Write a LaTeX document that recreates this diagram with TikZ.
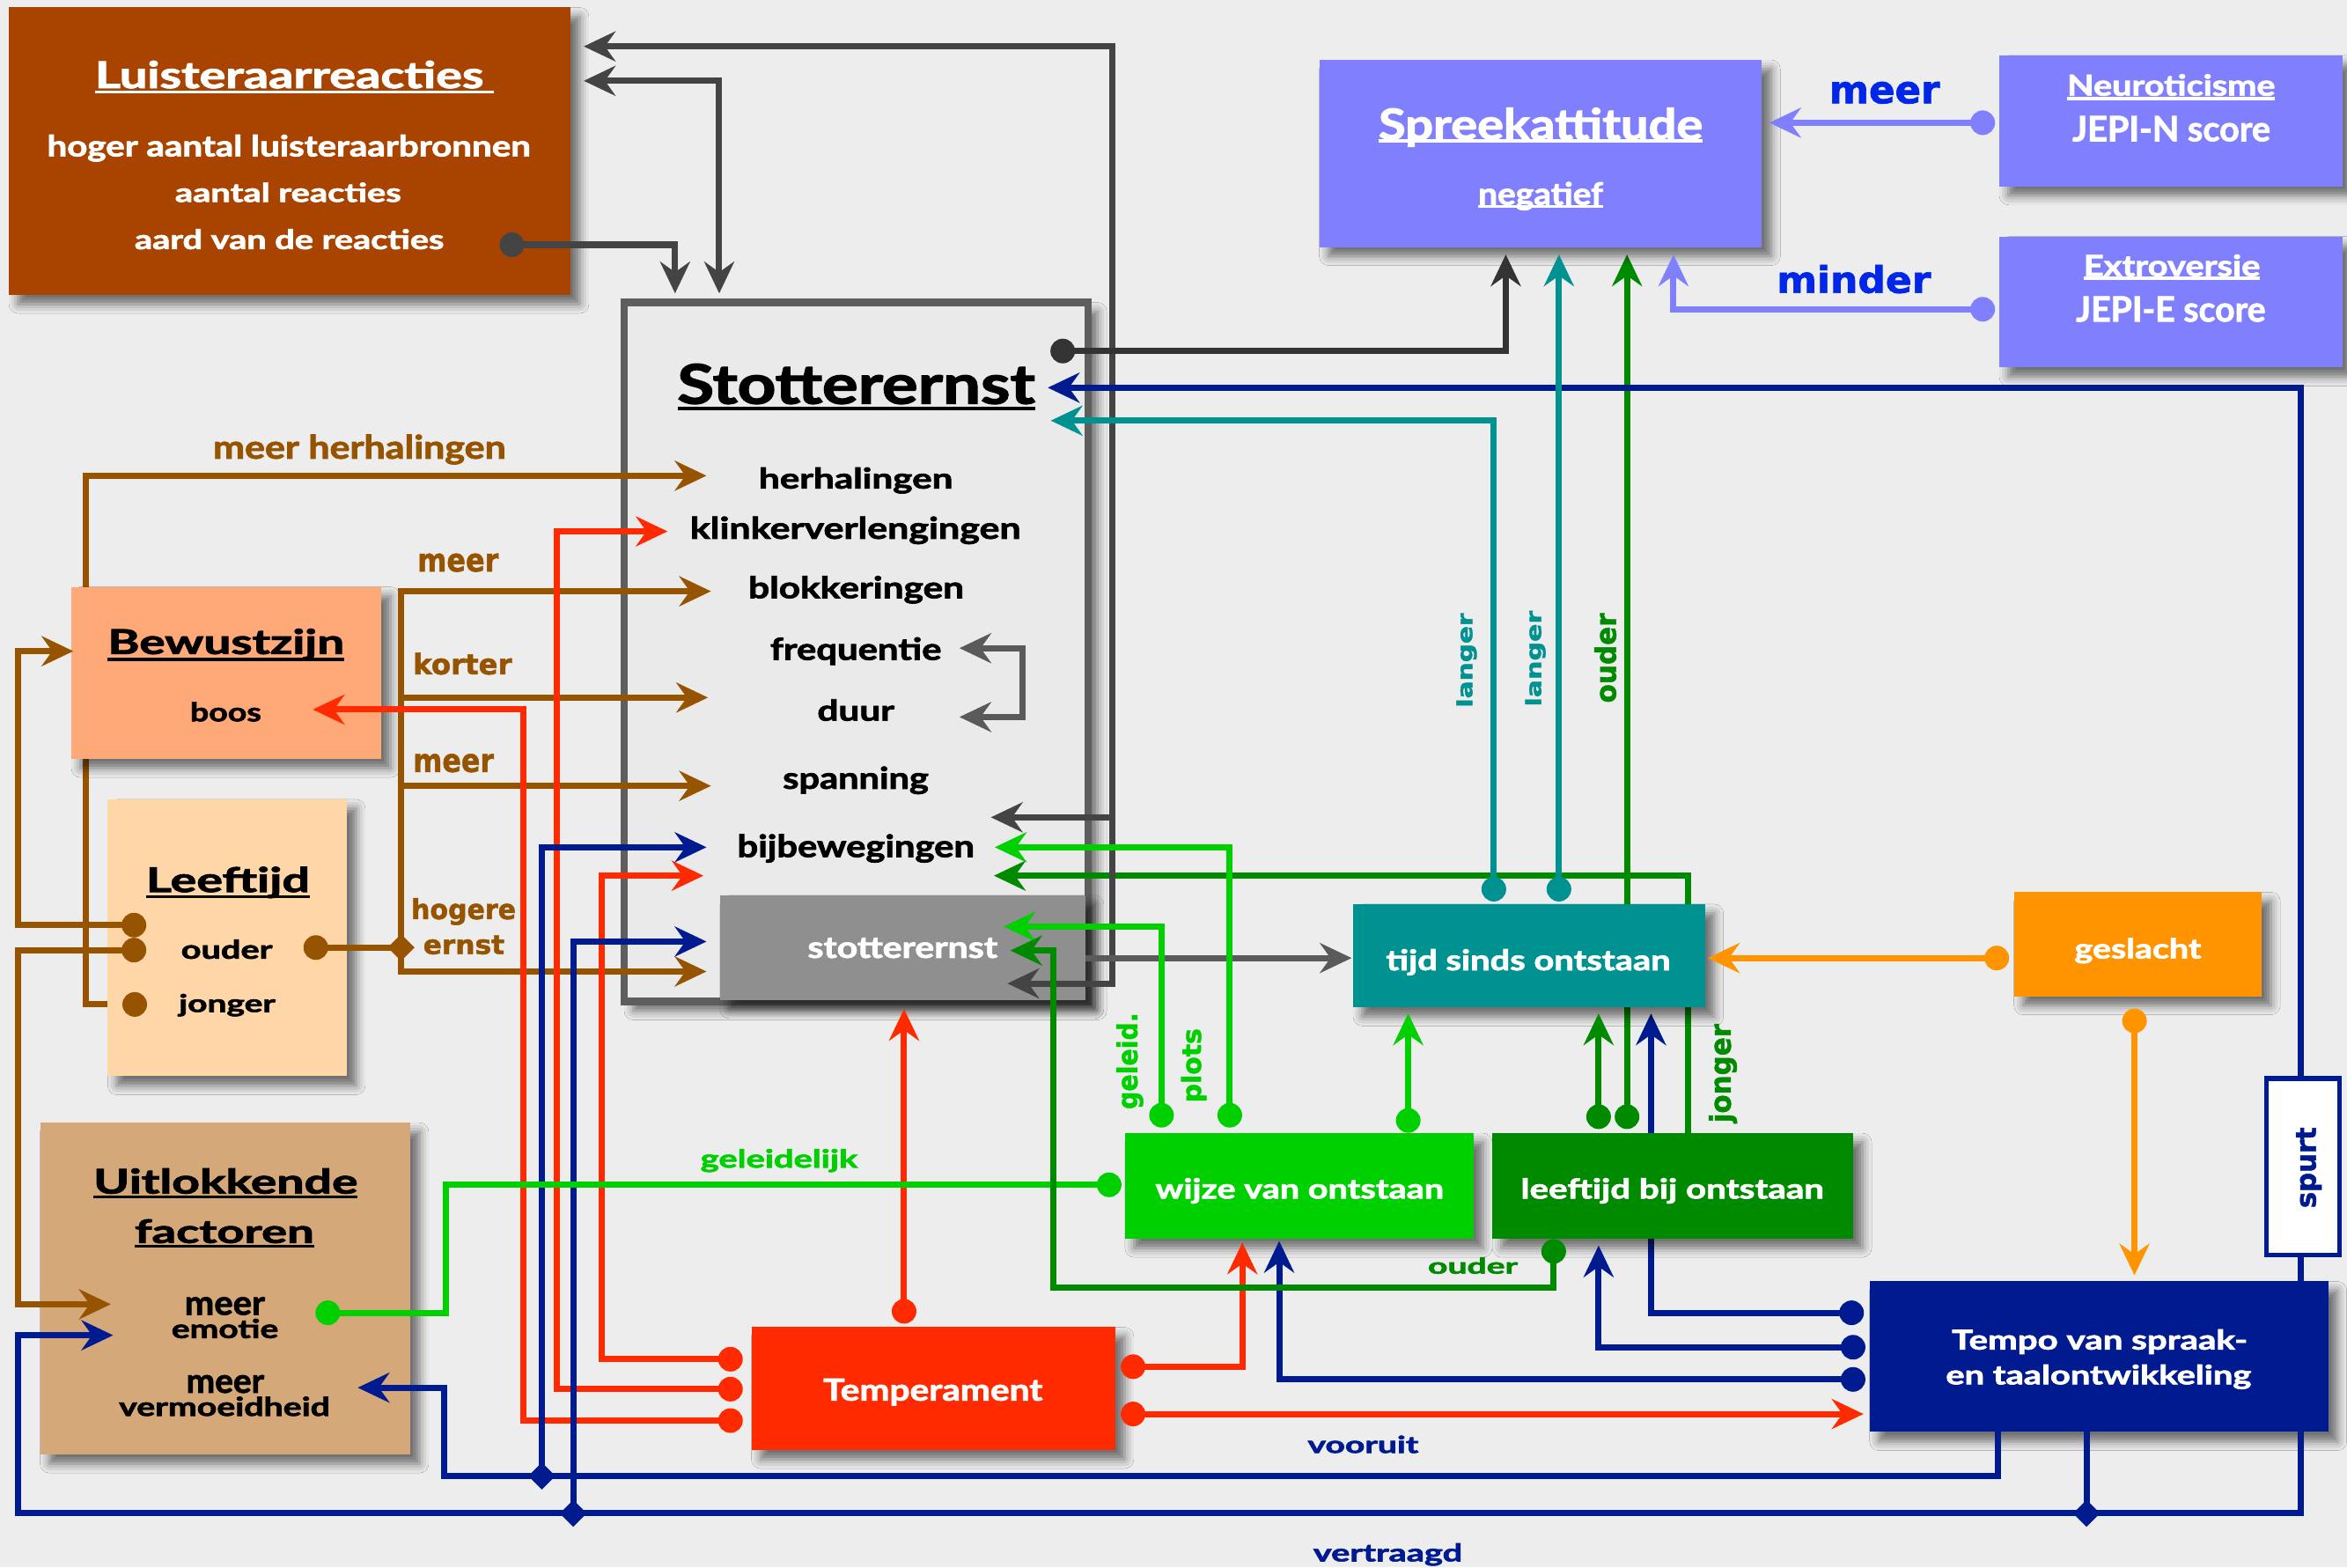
\documentclass[tikz,border=0pt]{standalone}
\usepackage{fontspec}
\setmainfont{Lato}[BoldFeatures={FakeBold=2}]
\newfontfamily\heavyfont{DejaVu Sans}[BoldFeatures={FakeBold=1.5}]
\usepackage{graphicx}
\usetikzlibrary{arrows.meta,fit,shadows.blur}
\newlength\myu
\setlength\myu{0.017cm}
\newcommand\tx[6]{\node[inner sep=0pt,outer sep=0pt,text=#1] (#2) at (#3) {\resizebox*{#4\myu}{#5\myu}{\bfseries #6}};}
\newcommand\txh[6]{\node[inner sep=0pt,outer sep=0pt,text=#1] (#2) at (#3) {\resizebox*{#4\myu}{#5\myu}{\heavyfont\bfseries #6}};}
\newcommand\txr[6]{\node[inner sep=0pt,outer sep=0pt,rotate=90,text=#1] (#2) at (#3) {\resizebox*{#4\myu}{#5\myu}{\heavyfont\bfseries #6}};}
\newcommand\junc[2]{\fill[#1] (#2) ++(-9,0) -- ++(9,-9) -- ++(9,9) -- ++(-9,9) -- cycle;}
\definecolor{bg}{HTML}{EDEDED}
\definecolor{cLuis}{HTML}{A94400}
\definecolor{cBig}{HTML}{EAEAEA}
\definecolor{cBigB}{HTML}{5E5E5E}
\definecolor{cInner}{HTML}{8F8F8F}
\definecolor{cPeri}{HTML}{8080FF}
\definecolor{cBew}{HTML}{FFA878}
\definecolor{cLeef}{HTML}{FFD6A8}
\definecolor{cUit}{HTML}{D4A878}
\definecolor{cRed}{HTML}{FF2A00}
\definecolor{cTeal}{HTML}{009191}
\definecolor{cOr}{HTML}{FF9400}
\definecolor{cGr}{HTML}{00D000}
\definecolor{cDg}{HTML}{008A00}
\definecolor{cNavy}{HTML}{001A8F}
\definecolor{cBrown}{HTML}{965300}
\definecolor{cDark}{HTML}{444444}
\definecolor{cDarker}{HTML}{333333}
\definecolor{cMid}{HTML}{5A5A5A}
\definecolor{cBlue}{HTML}{0026E8}
\begin{document}
\begin{tikzpicture}[x=0.017cm,y=-0.017cm,
  >={Stealth[length=0.36cm,width=0.34cm,inset=0.12cm]},
  ln/.style={line width=2pt,line cap=rect,line join=miter},
  box/.style={inner sep=0pt,outer sep=0pt,blur shadow={shadow xshift=3pt,shadow yshift=-3pt,shadow blur radius=3pt,shadow opacity=55}},
  dot/.style={circle,fill=#1,inner sep=0pt,minimum size=0.28cm}]
\useasboundingbox (0,0) rectangle (1568,1047);
\fill[bg] (0,0) rectangle (1568,1047);
% ---------- coordinates: dots
\coordinate (d-aard) at (342,163.5);
\coordinate (d-stot) at (710,234.5);
\coordinate (d-oud1) at (89.5,618);
\coordinate (d-oud2) at (89.5,634.7);
\coordinate (d-jong) at (90,671);
\coordinate (d-oud3) at (211,633);
\coordinate (d-tem1) at (488,908);
\coordinate (d-tem2) at (488,928);
\coordinate (d-tem3) at (488,949);
\coordinate (d-temt) at (604,876);
\coordinate (d-temr1) at (757,913);
\coordinate (d-temr2) at (757,944.6);
\coordinate (d-emo) at (219,877);
\coordinate (d-wl) at (741,791.5);
\coordinate (d-w1) at (776,745);
\coordinate (d-w2) at (821.6,745);
\coordinate (d-w3) at (940.8,748.5);
\coordinate (d-lb1) at (1068,746);
\coordinate (d-lb2) at (1087,746);
\coordinate (d-lbb) at (1038,836);
\coordinate (d-ti1) at (998,594);
\coordinate (d-ti2) at (1041.5,594);
\coordinate (d-gl) at (1334,640);
\coordinate (d-gb) at (1426,682);
\coordinate (d-te1) at (1237,877);
\coordinate (d-te2) at (1238,900);
\coordinate (d-te3) at (1238,921.5);
\coordinate (d-neu) at (1324.6,82);
\coordinate (d-ext) at (1324.6,206.6);
% ---------- coordinates: arrow tips and junctions
\coordinate (a-luis1) at (390,31);
\coordinate (a-luis2) at (390,54);
\coordinate (a-stot1) at (451,196);
\coordinate (a-stot2) at (480.5,196);
\coordinate (a-inner1) at (673,657);
\coordinate (a-bijbgr) at (662,546);
\coordinate (a-spr1) at (1006,170);
\coordinate (a-freq) at (641,433);
\coordinate (a-duur) at (641,479);
\coordinate (a-tijd1) at (903,640);
\coordinate (a-herh) at (472,317.8);
\coordinate (a-bew) at (49,435);
\coordinate (a-emo1) at (74,871.3);
\coordinate (a-blok) at (475,395);
\coordinate (a-duur2) at (473,466);
\coordinate (a-span) at (475,525);
\coordinate (a-inner2) at (472,649);
\coordinate (a-boos) at (209,474);
\coordinate (a-klink) at (446,355);
\coordinate (a-bijbr) at (470,585);
\coordinate (a-inner3) at (604,674);
\coordinate (a-wijze1) at (830,830);
\coordinate (a-tempo1) at (1245,944.6);
\coordinate (a-emo2) at (75.6,892);
\coordinate (a-stot3) at (700,259);
\coordinate (a-inner4) at (472,629);
\coordinate (a-verm) at (239,927);
\coordinate (a-bijbn) at (472,566);
\coordinate (a-tijd2) at (1103,677);
\coordinate (a-lb1) at (1068,832);
\coordinate (a-wijze2) at (854.6,829);
\coordinate (a-inner5) at (670.6,619);
\coordinate (a-bijbg) at (664.6,566);
\coordinate (a-tijd3) at (940.8,677);
\coordinate (a-inner6) at (675,635);
\coordinate (a-tijd4) at (1068,677);
\coordinate (a-spr3) at (1087,170);
\coordinate (a-bijbdg) at (664,585);
\coordinate (a-stot4) at (702,281);
\coordinate (a-spr2) at (1041.5,170);
\coordinate (a-tijd5) at (1141,640);
\coordinate (a-tempo2) at (1426,852);
\coordinate (a-spr4) at (1182,82);
\coordinate (a-spr5) at (1118,170);
\coordinate (j-br) at (268,633);
\coordinate (j-n1) at (1394,1011);
\coordinate (j-n2) at (383,1011);
\coordinate (j-n3) at (362,986);
% ---------- big box
\node[box,fit={(417,202) (727,669)},fill=cBig,draw=cBigB,line width=2.4pt] (stotbox) {};
\node[box,fit={(481,598) (725,668)},fill=cInner] (innerbox) {};
% ---------- lines running behind boxes
\draw[ln,cBrown,->] (d-jong) -- (57.5,671) -- (57.5,317.8) -- (a-herh);
\draw[ln,cNavy,->] (d-te1) -- (1103,877) -- (a-tijd2);
\draw[ln,cDg,->] (d-lb2) -- (a-spr3);
\draw[ln,cDg,->] (1128,790) -- (1128,585) -- (a-bijbdg);
% ---------- boxes
\node[box,fit={(6,5) (381,197)},fill=cLuis] (luis) {};
\node[box,fit={(881.4,40) (1177,165)},fill=cPeri] (spreek) {};
\node[box,fit={(1335.7,37) (1564.8,124.5)},fill=cPeri] (neuro) {};
\node[box,fit={(1335.7,158) (1564.8,245.5)},fill=cPeri] (extro) {};
\node[box,fit={(47.7,392) (254.6,507)},fill=cBew] (bew) {};
\node[box,fit={(72,534) (231.6,719)},fill=cLeef] (leef) {};
\node[box,fit={(26.8,750) (274,971.6)},fill=cUit] (uit) {};
\node[box,fit={(502,886.6) (745,968.7)},fill=cRed] (temp) {};
\node[box,fit={(904,604) (1139,673)},fill=cTeal] (tijd) {};
\node[box,fit={(1345.5,596) (1511,665.5)},fill=cOr] (gesl) {};
\node[box,fit={(751.5,757) (984.5,827.5)},fill=cGr] (wijze) {};
\node[box,fit={(997,757) (1238,827.5)},fill=cDg] (lbo) {};
\node[box,fit={(1249,856) (1555.4,956.6)},fill=cNavy] (tempo) {};
% ---------- grey / black connectors
\draw[ln,cDark,<->] (a-luis1) -- (743,31) -- (743,657) -- (a-inner1);
\draw[ln,cDark,->] (743,546) -- (a-bijbgr);
\draw[ln,cDark,<->] (a-luis2) -- (480.5,54) -- (a-stot2);
\draw[ln,cDark,->] (d-aard) -- (451,163.5) -- (a-stot1);
\draw[ln,cDarker,->] (d-stot) -- (1006,234.5) -- (a-spr1);
\draw[ln,cMid,<->] (a-freq) -- (683,433) -- (683,479) -- (a-duur);
\draw[ln,cMid,->] (727,640) -- (a-tijd1);
% ---------- brown connectors
\draw[ln,cBrown,->] (d-oud1) -- (12,618) -- (12,435) -- (a-bew);
\draw[ln,cBrown,->] (d-oud2) -- (12,634.7) -- (12,871.3) -- (a-emo1);
\draw[ln,cBrown] (d-oud3) -- (j-br);
\draw[ln,cBrown,->] (268,649) -- (268,395) -- (a-blok);
\draw[ln,cBrown,->] (268,466) -- (a-duur2);
\draw[ln,cBrown,->] (268,525) -- (a-span);
\draw[ln,cBrown,->] (268,649) -- (a-inner2);
% ---------- red connectors
\draw[ln,cRed,->] (d-tem3) -- (349.5,949) -- (349.5,474) -- (a-boos);
\draw[ln,cRed,->] (d-tem2) -- (372,928) -- (372,355) -- (a-klink);
\draw[ln,cRed,->] (d-tem1) -- (402,908) -- (402,585) -- (a-bijbr);
\draw[ln,cRed,->] (d-temt) -- (a-inner3);
\draw[ln,cRed,->] (d-temr1) -- (830,913) -- (a-wijze1);
\draw[ln,cRed,->] (d-temr2) -- (a-tempo1);
% ---------- navy connectors
\draw[ln,cNavy] (1394,957) -- (j-n1);
\draw[ln,cNavy,->] (j-n1) -- (12,1011) -- (12,892) -- (a-emo2);
\draw[ln,cNavy,->] (j-n1) -- (1537,1011) -- (1537,259) -- (a-stot3);
\draw[ln,cNavy,->] (j-n2) -- (383,629) -- (a-inner4);
\draw[ln,cNavy,->] (1335,957) -- (1335,986) -- (297,986) -- (297,927) -- (a-verm);
\draw[ln,cNavy,->] (j-n3) -- (362,566) -- (a-bijbn);
\draw[ln,cNavy,->] (d-te2) -- (1068,900) -- (a-lb1);
\draw[ln,cNavy,->] (d-te3) -- (854.6,921.5) -- (a-wijze2);
% ---------- green connectors
\draw[ln,cGr] (d-emo) -- (298,877) -- (298,791.5) -- (d-wl);
\draw[ln,cGr,->] (d-w1) -- (776,619) -- (a-inner5);
\draw[ln,cGr,->] (d-w2) -- (821.6,566) -- (a-bijbg);
\draw[ln,cGr,->] (d-w3) -- (a-tijd3);
\draw[ln,cDg,->] (d-lbb) -- (1038,860) -- (703.5,860) -- (703.5,635) -- (a-inner6);
\draw[ln,cDg,->] (d-lb1) -- (a-tijd4);
% ---------- teal, orange, periwinkle
\draw[ln,cTeal,->] (d-ti1) -- (998,281) -- (a-stot4);
\draw[ln,cTeal,->] (d-ti2) -- (a-spr2);
\draw[ln,cOr,->] (d-gl) -- (a-tijd5);
\draw[ln,cOr,->] (d-gb) -- (a-tempo2);
\draw[ln,cPeri,->] (d-neu) -- (a-spr4);
\draw[ln,cPeri,->] (d-ext) -- (1118,206.6) -- (a-spr5);
% ---------- spurt box
\node[fit={(1514,720.5) (1563,838.5)},inner sep=0pt,fill=white,draw=cNavy,line width=1.5pt] (spurtbox) {};
% ---------- junctions and dots
\junc{cBrown}{j-br}
\junc{cNavy}{j-n1}
\junc{cNavy}{j-n2}
\junc{cNavy}{j-n3}
\node[dot=cDark] (dot-aard) at (d-aard) {};
\node[dot=cDarker] (dot-stot) at (d-stot) {};
\node[dot=cBrown] (dot-oud1) at (d-oud1) {};
\node[dot=cBrown] (dot-oud2) at (d-oud2) {};
\node[dot=cBrown] (dot-jong) at (d-jong) {};
\node[dot=cBrown] (dot-oud3) at (d-oud3) {};
\node[dot=cRed] (dot-tem1) at (d-tem1) {};
\node[dot=cRed] (dot-tem2) at (d-tem2) {};
\node[dot=cRed] (dot-tem3) at (d-tem3) {};
\node[dot=cRed] (dot-temt) at (d-temt) {};
\node[dot=cRed] (dot-temr1) at (d-temr1) {};
\node[dot=cRed] (dot-temr2) at (d-temr2) {};
\node[dot=cGr] (dot-emo) at (d-emo) {};
\node[dot=cGr] (dot-wl) at (d-wl) {};
\node[dot=cGr] (dot-w1) at (d-w1) {};
\node[dot=cGr] (dot-w2) at (d-w2) {};
\node[dot=cGr] (dot-w3) at (d-w3) {};
\node[dot=cDg] (dot-lb1) at (d-lb1) {};
\node[dot=cDg] (dot-lb2) at (d-lb2) {};
\node[dot=cDg] (dot-lbb) at (d-lbb) {};
\node[dot=cTeal] (dot-ti1) at (d-ti1) {};
\node[dot=cTeal] (dot-ti2) at (d-ti2) {};
\node[dot=cOr] (dot-gl) at (d-gl) {};
\node[dot=cOr] (dot-gb) at (d-gb) {};
\node[dot=cNavy] (dot-te1) at (d-te1) {};
\node[dot=cNavy] (dot-te2) at (d-te2) {};
\node[dot=cNavy] (dot-te3) at (d-te3) {};
\node[dot=cPeri] (dot-neu) at (d-neu) {};
\node[dot=cPeri] (dot-ext) at (d-ext) {};
% ---------- texts
\tx{white}{t-luis}{193.3,49.8}{259.5}{18.5}{Luisteraarreacties}
\draw[white,line width=1pt] (63.5,61.5) -- (330,61.5);
\tx{white}{t-luis1}{193,99}{323}{18}{hoger aantal luisteraarbronnen}
\tx{white}{t-luis2}{192.5,128.5}{151}{13}{aantal reacties}
\tx{white}{t-luis3}{193.3,159.8}{206.6}{13.5}{aard van de reacties}
\tx{black}{t-stot}{572,256.5}{239}{27}{Stotterernst}
\draw[black,line width=1.3pt] (452.6,273) -- (691.5,273);
\tx{black}{t-herh}{571.8,321}{129.6}{17.5}{herhalingen}
\tx{black}{t-klink}{571.5,354.3}{221}{18.5}{klinkerverlengingen}
\tx{black}{t-blok}{572,394}{144}{18.5}{blokkeringen}
\tx{black}{t-freq}{571.8,435}{114.4}{18.5}{frequentie}
\tx{black}{t-duur}{571.8,474.4}{51.5}{14.5}{duur}
\tx{black}{t-span}{571.7,521.3}{97.4}{18.5}{spanning}
\tx{black}{t-bijb}{571.8,566.8}{158.4}{19}{bijbewegingen}
\tx{white}{t-inner}{603,633.3}{126.8}{13.5}{stotterernst}
\tx{white}{t-spreek}{1029.3,85}{216.5}{26}{Spreekattitude}
\draw[white,line width=1pt] (921,94) -- (1137.5,94);
\tx{white}{t-neg}{1029.3,131}{83.4}{19}{negatief}
\draw[white,line width=1pt] (987.6,138) -- (1071,138);
\tx{white}{t-neuro}{1450.5,56.8}{139}{14.5}{Neuroticisme}
\draw[white,line width=1pt] (1381,66) -- (1520,66);
\tx{white}{t-jepin}{1450.7,86}{132.2}{17}{JEPI-N score}
\tx{white}{t-extro}{1451,177.3}{118}{14.6}{Extroversie}
\draw[white,line width=1pt] (1392,186) -- (1510,186);
\tx{white}{t-jepie}{1450.3,206.5}{126.6}{17}{JEPI-E score}
\txh{cBlue}{t-meer}{1259,62}{74}{14.7}{meer}
\txh{cBlue}{t-minder}{1238.5,186.5}{103}{19}{minder}
\tx{black}{t-bew}{151,430.5}{158}{21}{Bewustzijn}
\draw[black,line width=1pt] (72,440.5) -- (230,440.5);
\tx{black}{t-boos}{150.8,475.5}{47.5}{13}{boos}
\tx{black}{t-leef}{152.3,589.5}{109.4}{21}{Leeftijd}
\draw[black,line width=1pt] (97.6,599) -- (207,599);
\tx{black}{t-ouder}{151.5,634.1}{61}{13}{ouder}
\tx{black}{t-jonger}{151.8,671.5}{64.4}{15}{jonger}
\tx{black}{t-uit}{150.7,789}{176.6}{17}{Uitlokkende}
\draw[black,line width=1pt] (62.4,799.5) -- (239,799.5);
\tx{black}{t-fact}{149.9,822.5}{119.7}{16}{factoren}
\draw[black,line width=1pt] (90,832.5) -- (209.7,832.5);
\tx{black}{t-meer1}{150.2,872.5}{53.6}{12}{meer}
\tx{black}{t-emotie}{150.3,887.5}{71.4}{13}{emotie}
\tx{black}{t-meer2}{150.5,924.6}{52}{12}{meer}
\tx{black}{t-verm}{150,939.5}{141}{13}{vermoeidheid}
\tx{white}{t-temp}{623.3,930}{146.5}{18}{Temperament}
\tx{white}{t-tijd}{1021,642.8}{190}{17.5}{tijd sinds ontstaan}
\tx{white}{t-gesl}{1428.3,635.1}{84.6}{17}{geslacht}
\tx{white}{t-wijze}{868.3,795.5}{192.6}{17}{wijze van ontstaan}
\tx{white}{t-lbo}{1117.3,795.5}{202.5}{17}{leeftijd bij ontstaan}
\tx{white}{t-tempo1}{1402.8,896.3}{197.5}{16.5}{Tempo van spraak-}
\tx{white}{t-tempo2}{1402,919.8}{204}{16.4}{en taalontwikkeling}
\tx{cNavy}{t-vooruit}{910.7,964.9}{74}{11.7}{vooruit}
\tx{cNavy}{t-vertraagd}{927.2,1038.5}{99.6}{15}{vertraagd}
\tx{cDg}{t-ouderg}{984,845.5}{60}{11}{ouder}
\tx{cGr}{t-geleidelijk}{520.5,775.3}{105}{15.5}{geleidelijk}
\tx{cBrown}{t-meerh}{240.2,300.3}{195.6}{20}{meer herhalingen}
\txh{cBrown}{t-b1}{306,375.9}{54.2}{12.3}{meer}
\txh{cBrown}{t-b2}{309,443.4}{66}{14.7}{korter}
\txh{cBrown}{t-b3}{303,509.8}{54}{12.4}{meer}
\txh{cBrown}{t-b4}{309.7,609}{70}{18}{hogere}
\txh{cBrown}{t-b5}{309.9,631.3}{54.3}{12.6}{ernst}
\txr{cTeal}{t-langer1}{979.8,441.1}{63}{13.6}{langer}
\txr{cTeal}{t-langer2}{1025.8,440}{64}{13.6}{langer}
\txr{cDg}{t-ouderr}{1072.5,439.6}{60}{14.7}{ouder}
\txr{cGr}{t-geleid}{754.8,708.8}{64.5}{18}{geleid.}
\txr{cGr}{t-plots}{797.5,711.8}{49.5}{17}{plots}
\txr{cDg}{t-jongerr}{1151,717}{66}{18.8}{jonger}
\txr{cNavy}{t-spurt}{1542.5,780}{54}{17}{spurt}
\end{tikzpicture}
\end{document}
